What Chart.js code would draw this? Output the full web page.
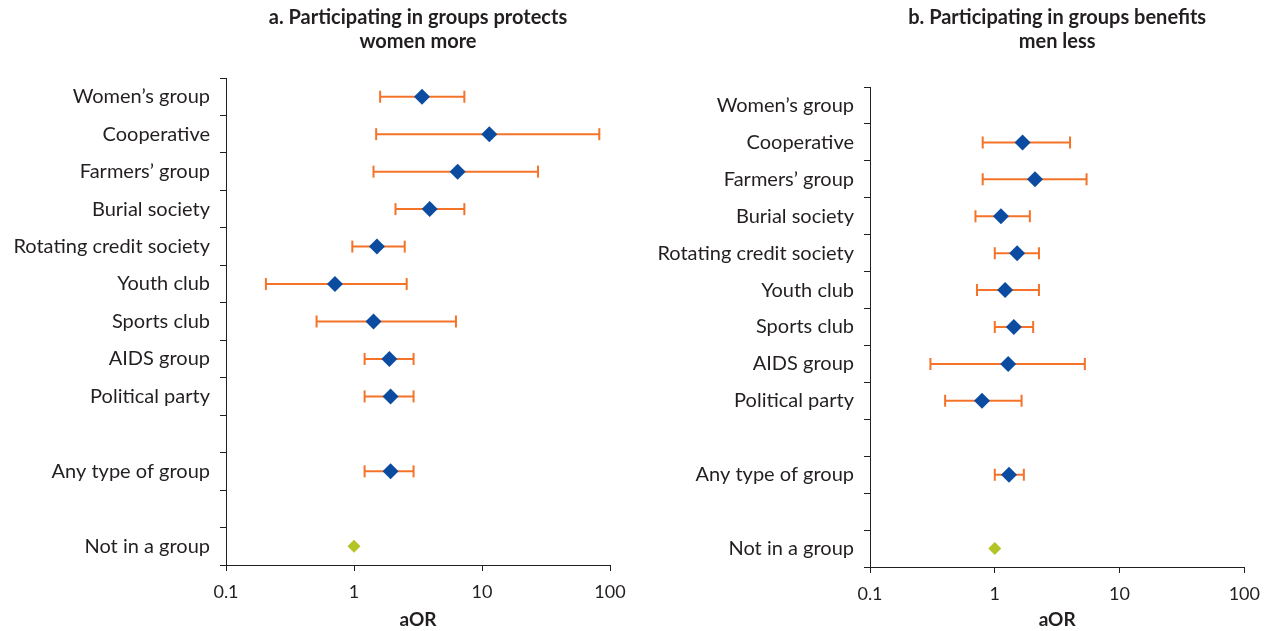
<!DOCTYPE html>
<html>
<head>
<meta charset="utf-8">
<script src="https://cdn.jsdelivr.net/npm/chart.js@4"></script>
<style>
  html, body { margin: 0; padding: 0; background: #fff; }
  #wrap { position: relative; width: 1270px; height: 631px; }
  .box { position: absolute; top: 0; height: 631px; }
  #boxA { left: 0; width: 640px; }
  #boxB { left: 640px; width: 630px; }
</style>
</head>
<body>
<div id="wrap">
  <div class="box" id="boxA"><canvas id="chartA"></canvas></div>
  <div class="box" id="boxB"><canvas id="chartB"></canvas></div>
</div>
<script>
// rows with an estimate (top to bottom)
const rowLabels = [
  "Women’s group", "Cooperative", "Farmers’ group", "Burial society",
  "Rotating credit society", "Youth club", "Sports club", "AIDS group",
  "Political party", "Any type of group"
];
// category axis, with two empty slots
const axisCategories = [
  "Women’s group", "Cooperative", "Farmers’ group", "Burial society",
  "Rotating credit society", "Youth club", "Sports club", "AIDS group",
  "Political party", " ", "Any type of group", "  ", "Not in a group"
];

// a. women
const womenOR   = [3.40, 11.4, 6.45, 3.90, 1.51, 0.71, 1.42, 1.89, 1.93, 1.93];
const womenLow  = [1.60, 1.49, 1.42, 2.11, 0.97, 0.205, 0.51, 1.21, 1.21, 1.21];
const womenHigh = [7.28, 82.5, 27.4, 7.28, 2.49, 2.58, 6.26, 2.92, 2.92, 2.92];

// b. men (no estimate for women's group)
const menOR   = [null, 1.67, 2.10, 1.12, 1.51, 1.21, 1.42, 1.28, 0.79, 1.30];
const menLow  = [null, 0.80, 0.80, 0.70, 1.00, 0.72, 1.00, 0.305, 0.40, 1.00];
const menHigh = [null, 4.01, 5.44, 1.91, 2.26, 2.26, 2.03, 5.27, 1.64, 1.71];

// reference group
const refLabel = "Not in a group";
const refOR = 1;

const xTicks = [0.1, 1, 10, 100];

const BLUE = "#0b4ca1";
const ORANGE = "#f47328";
const GREEN = "#b3c427";
const INK = "#231f20";
const FONT = "Lato, 'Open Sans', sans-serif";

const makeChart = (canvasId, title, or, low, high, cfg) => {
  const points = [];
  const bars = [];
  rowLabels.forEach((label, i) => {
    if (or[i] == null) return;
    points.push({ x: or[i], y: label });
    bars.push({
      data: [{ x: low[i], y: label }, { x: high[i], y: label }],
      showLine: true,
      borderColor: ORANGE,
      borderWidth: 2,
      pointStyle: "line",
      rotation: 90,
      pointRadius: 6,
      pointBorderWidth: 2,
      pointBorderColor: ORANGE,
      order: 5,
    });
  });

  const datasets = [
    {
      data: points,
      pointStyle: "rectRot",
      pointRadius: 8,
      pointBackgroundColor: BLUE,
      pointBorderColor: BLUE,
      pointBorderWidth: 0,
      order: 0,
    },
    {
      data: [{ x: refOR, y: refLabel }],
      pointStyle: "rectRot",
      pointRadius: 6.5,
      pointBackgroundColor: GREEN,
      pointBorderColor: GREEN,
      pointBorderWidth: 0,
      order: 1,
    },
    ...bars,
  ];

  return new Chart(document.getElementById(canvasId), {
    type: "scatter",
    data: { datasets },
    options: {
      responsive: true,
      maintainAspectRatio: false,
      animation: false,
      layout: { padding: { left: 0, right: cfg.padRight, top: 0, bottom: 0 } },
      plugins: {
        legend: { display: false },
        tooltip: { enabled: false },
        title: {
          display: true,
          text: title,
          fullSize: false,
          color: INK,
          font: { family: FONT, size: 20, weight: "bold", lineHeight: 1.2 },
          padding: { top: 6, bottom: cfg.titleGap },
        },
      },
      scales: {
        x: {
          type: "logarithmic",
          min: 0.1,
          max: 100,
          afterBuildTicks: (scale) => {
            scale.ticks = xTicks.map((v) => ({ value: v }));
          },
          afterFit: (scale) => {
            scale.height = cfg.xHeight;
          },
          ticks: {
            callback: (v) => String(v),
            color: INK,
            font: { family: FONT, size: 18 },
            padding: 10,
            autoSkip: false,
            maxRotation: 0,
          },
          grid: { drawOnChartArea: false, drawTicks: true, tickLength: 6, color: INK },
          border: { display: true, color: INK, width: 1 },
          title: {
            display: true,
            text: "aOR",
            color: INK,
            font: { family: FONT, size: 19, weight: "bold" },
            padding: { top: 0, bottom: 0 },
          },
        },
        y: {
          type: "category",
          labels: axisCategories,
          offset: true,
          afterFit: (scale) => {
            scale.width = cfg.yWidth;
          },
          ticks: {
            color: INK,
            font: { family: FONT, size: 20 },
            padding: 10,
            autoSkip: false,
          },
          grid: { offset: true, drawOnChartArea: false, drawTicks: true, tickLength: 6, color: INK },
          border: { display: true, color: INK, width: 1 },
        },
      },
    },
  });
};

makeChart("chartA", ["a. Participating in groups protects", "women more"],
  womenOR, womenLow, womenHigh,
  { padRight: 30, titleGap: 24, xHeight: 66, yWidth: 226 });

makeChart("chartB", ["b. Participating in groups benefits", "men less"],
  menOR, menLow, menHigh,
  { padRight: 22, titleGap: 33, xHeight: 64, yWidth: 230 });
</script>
</body>
</html>
